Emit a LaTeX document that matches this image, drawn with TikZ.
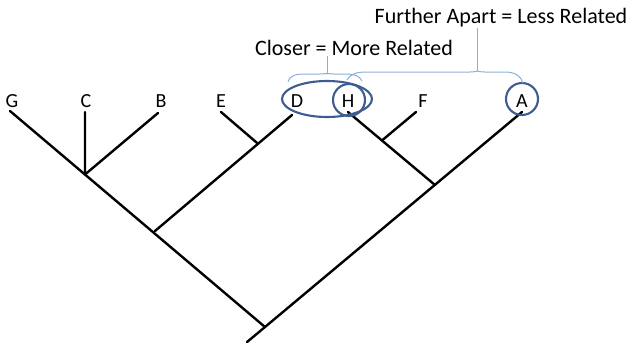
\documentclass[tikz,border=0pt]{standalone}
\usepackage{fontspec}
\setmainfont{Carlito}
\usetikzlibrary{calc,shapes.geometric}
\definecolor{ringblue}{RGB}{62,92,145}
\definecolor{braceblue}{RGB}{140,175,218}
\tikzset{
  leaf/.style={inner sep=0pt, font=\fontsize{20}{20}\selectfont},
  branch/.style={line width=2.4pt, line cap=round, black},
  ring/.style={draw=ringblue, line width=2.1pt},
  bracepath/.style={draw=braceblue, line width=1pt},
  note/.style={inner sep=0pt, font=\fontsize{22}{22}\selectfont}
}
\begin{document}
\begin{tikzpicture}[x=1pt,y=-1pt]
\useasboundingbox (0,0) rectangle (633,346);
% labels
\node[leaf] (G) at (12,101) {G};
\node[leaf] (C) at (86,101) {C};
\node[leaf] (B) at (161,101) {B};
\node[leaf] (E) at (221,101) {E};
\node[leaf] (D) at (297,101) {D};
\node[leaf] (H) at (348,101) {H};
\node[leaf] (F) at (423,101) {F};
\node[leaf] (A) at (522,101) {A};
% tips
\coordinate (tG) at (10,111);
\coordinate (tC) at (85,112);
\coordinate (tB) at (158,113);
\coordinate (tE) at (221,112);
\coordinate (tD) at (292,115);
\coordinate (tH) at (348,112);
\coordinate (tF) at (416,112);
\coordinate (tA) at (522,112);
% junctions
\coordinate (root) at (265,327);
\coordinate (jDE) at (155,231);
\coordinate (jHF) at (435,185);
\coordinate (jC) at ($(tG)!0.294!(root)$);
\coordinate (jE) at ($(tD)!0.248!(jDE)$);
\coordinate (jF) at ($(tH)!0.39!(jHF)$);
\coordinate (stub) at ($(root)!-0.07!(tA)$);
% branches
\draw[branch] (tG) -- (root);
\draw[branch] (tC) -- (jC);
\draw[branch] (tB) -- (jC);
\draw[branch] (tD) -- (jDE);
\draw[branch] (tE) -- (jE);
\draw[branch] (tA) -- (stub);
\draw[branch] (tH) -- (jHF);
\draw[branch] (tF) -- (jF);
% rings
\node[ring, ellipse, minimum width=90pt, minimum height=36pt, inner sep=0pt] (ringDH) at (327,99) {};
\node[ring, circle, minimum size=32pt, inner sep=0pt] (ringH) at (349,100) {};
\node[ring, circle, minimum size=32pt, inner sep=0pt] (ringA) at (522,99) {};
% braces
\coordinate (bc1) at (288,82);
\coordinate (bc2) at (362,81);
\coordinate (bct) at (327,74);
\coordinate (bf1) at (347,80);
\coordinate (bf2) at (523,83);
\coordinate (bft) at (477,71);
\draw[bracepath] (bc1) .. controls (290,75) and (296,74) .. (306,74) -- (320,74)
   .. controls (324,74) and (327,73) .. (bct)
   .. controls (327,73) and (330,74) .. (334,74) -- (346,74)
   .. controls (354,74) and (360,76) .. (bc2);
\draw[bracepath] (bf1) .. controls (351,73) and (358,72) .. (368,72) -- (470,72)
   .. controls (475,72) and (477,71) .. (bft)
   .. controls (477,71) and (480,72) .. (485,72) -- (505,72)
   .. controls (515,72) and (521,76) .. (bf2);
\node[note] (closer) at (354,48) {Closer = More Related};
\node[note] (further) at (501,18) {Further Apart = Less Related};
\draw[bracepath] (bct) -- (closer.south -| bct);
\draw[bracepath] (bft) -- (further.south -| bft);
\end{tikzpicture}
\end{document}
